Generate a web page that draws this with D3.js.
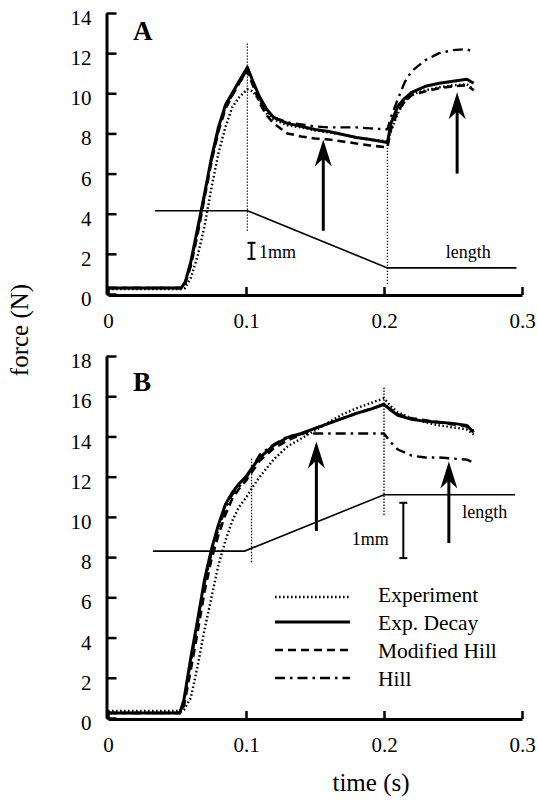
<!DOCTYPE html>
<html>
<head>
<meta charset="utf-8">
<script src="https://cdn.jsdelivr.net/npm/d3@7"></script>
<style>
  body { margin: 0; background: #fff; }
  text { font-family: "Liberation Serif", "Times New Roman", serif; fill: #000; }
</style>
</head>
<body>
<div id="chart"></div>
<script>
// ---------------------------------------------------------------
// DATA
// ---------------------------------------------------------------
const xTicks = [0, 0.1, 0.2, 0.3];
const xTickLabels = ["0", "0.1", "0.2", "0.3"];
const yTicksA = [0, 2, 4, 6, 8, 10, 12, 14];
const yTicksB = [0, 2, 4, 6, 8, 10, 12, 14, 16, 18];

// panel A
const timeA = [0, 0.053, 0.056, 0.06, 0.065, 0.07, 0.075, 0.08, 0.085, 0.09, 0.095, 0.101, 0.105, 0.11, 0.115, 0.12, 0.13, 0.14, 0.15, 0.16, 0.17, 0.18, 0.19, 0.2025, 0.205, 0.21, 0.215, 0.22, 0.23, 0.24, 0.25, 0.26, 0.265];
const experimentA = [0.25, 0.25, 0.3, 0.8, 1.9, 3.4, 5.3, 7.0, 8.3, 9.3, 9.8, 10.2, 10.1, 9.6, 9.0, 8.7, 8.4, 8.3, 8.15, 8.05, 7.95, 7.8, 7.7, 7.6, 8.1, 9.0, 9.6, 9.95, 10.15, 10.3, 10.4, 10.45, 10.2];
const decayA = [0.3, 0.3, 0.6, 1.6, 3.3, 5.0, 6.8, 8.3, 9.4, 10.0, 10.6, 11.3, 10.6, 9.8, 9.2, 8.8, 8.5, 8.35, 8.2, 8.1, 7.95, 7.8, 7.7, 7.55, 8.5, 9.35, 9.75, 10.05, 10.35, 10.5, 10.6, 10.7, 10.5];
const modHillA = [0.3, 0.3, 0.5, 1.4, 3.0, 4.8, 6.6, 8.1, 9.2, 9.9, 10.5, 11.1, 10.4, 9.5, 8.9, 8.5, 8.0, 7.85, 7.75, 7.7, 7.6, 7.5, 7.4, 7.3, 8.2, 9.1, 9.6, 9.9, 10.1, 10.25, 10.35, 10.4, 10.15];
const hillA = [0.3, 0.3, 0.6, 1.5, 3.2, 4.9, 6.7, 8.2, 9.3, 9.9, 10.5, 11.2, 10.5, 9.7, 9.1, 8.8, 8.55, 8.45, 8.35, 8.3, 8.3, 8.3, 8.25, 8.2, 8.8, 9.7, 10.55, 11.1, 11.65, 12.0, 12.15, 12.2, 12.05];

// panel B
const timeB = [0, 0.052, 0.055, 0.06, 0.065, 0.07, 0.075, 0.08, 0.085, 0.09, 0.095, 0.1, 0.105, 0.11, 0.12, 0.13, 0.14, 0.15, 0.16, 0.17, 0.18, 0.19, 0.2, 0.205, 0.21, 0.22, 0.23, 0.24, 0.25, 0.26, 0.265];
const experimentB = [0.35, 0.35, 0.4, 1.0, 2.6, 4.4, 6.0, 7.6, 8.8, 9.8, 10.5, 10.95, 11.5, 12.0, 12.85, 13.5, 13.9, 14.3, 14.7, 15.1, 15.4, 15.65, 15.9, 15.5, 15.2, 14.9, 14.7, 14.55, 14.45, 14.35, 14.1];
const decayB = [0.25, 0.25, 0.9, 3.0, 4.9, 6.9, 8.4, 9.6, 10.6, 11.2, 11.65, 12.0, 12.5, 12.95, 13.55, 13.95, 14.15, 14.4, 14.65, 14.9, 15.15, 15.35, 15.6, 15.3, 15.05, 14.85, 14.75, 14.7, 14.65, 14.55, 14.2];
const modHillB = [0.25, 0.25, 0.6, 2.4, 4.3, 6.3, 7.9, 9.1, 10.1, 10.9, 11.4, 11.8, 12.3, 12.8, 13.4, 13.8, 14.1, 14.4, 14.65, 14.9, 15.15, 15.35, 15.6, 15.35, 15.1, 14.9, 14.8, 14.7, 14.6, 14.5, 14.3];
const hillB = [0.25, 0.25, 0.8, 2.8, 4.7, 6.7, 8.2, 9.4, 10.4, 11.1, 11.5, 11.9, 12.5, 13.1, 13.6, 14.0, 14.1, 14.15, 14.15, 14.15, 14.15, 14.15, 14.15, 13.7, 13.35, 13.05, 12.95, 12.95, 12.9, 12.85, 12.7];

// length traces and markers, in (time, force-axis) units
const lengthA = [[0.034, 4.15], [0.101, 4.15], [0.2025, 1.3], [0.296, 1.3]];
const lengthB = [[0.0325, 8.3], [0.099, 8.3], [0.2, 11.1], [0.295, 11.1]];
const markersA = [[0.101, 3.15, 12.5], [0.2025, 0.5, 7.65]];
const markersB = [[0.104, 7.75, 12.95], [0.2, 10.1, 16.45]];
const arrowsA = [[0.156, 3.15, 7.7], [0.253, 6.0, 10.05]];
const arrowsB = [[0.151, 9.3, 13.75], [0.247, 8.7, 12.75]];

const legendNames = ["Experiment", "Exp. Decay", "Modified Hill", "Hill"];

// ---------------------------------------------------------------
// LAYOUT
// ---------------------------------------------------------------
const width = 538;
const height = 800;

const x = d3.scaleLinear().domain([0, 0.3]).range([108, 522]);
const yA = d3.scaleLinear().domain([0, 14]).range([294, 13]);
const yB = d3.scaleLinear().domain([0, 18]).range([718, 356]);

// line styles per series
const seriesStyle = [
    { width: 2.4, dash: "1.6,2.4" },   // experiment (dotted)
    { width: 3, dash: null },          // exp. decay (solid)
    { width: 2.6, dash: "8,5" },       // modified hill (dashed)
    { width: 2.4, dash: "10,5,2.5,5" } // hill (dash-dot)
];

const svg = d3.select("#chart").append("svg")
    .attr("width", width)
    .attr("height", height);

// axes for one panel
function drawAxes(y, yTicks) {
    const leftAxis = d3.axisLeft(y)
        .tickValues(yTicks)
        .tickFormat(d => `${d}`)
        .tickSize(-10)
        .tickSizeOuter(0)
        .tickPadding(15);
    const gy = svg.append("g")
        .attr("transform", `translate(${x(0) - 1.5}, 0)`)
        .call(leftAxis);

    const bottomAxis = d3.axisBottom(x)
        .tickValues(xTicks)
        .tickFormat((d, i) => xTickLabels[i])
        .tickSize(-8)
        .tickSizeOuter(0)
        .tickPadding(18);
    const gx = svg.append("g")
        .attr("transform", `translate(0, ${y(0) + 1})`)
        .call(bottomAxis);

    [gy, gx].forEach(g => {
        g.select(".domain").attr("stroke", "#000").attr("stroke-width", 3);
        g.selectAll(".tick line").attr("stroke", "#000").attr("stroke-width", 2.5);
        g.selectAll(".tick text")
            .attr("font-family", "Liberation Serif")
            .attr("font-size", 21)
            .attr("fill", "#000");
    });
    gy.selectAll(".tick text").attr("dy", "0.55em");
}

// one force curve
function drawSeries(y, time, values, style) {
    const line = d3.line()
        .x((d, i) => x(time[i]))
        .y(d => y(d));
    svg.append("path")
        .datum(values)
        .attr("d", line)
        .attr("fill", "none")
        .attr("stroke", "#000")
        .attr("stroke-width", style.width)
        .attr("stroke-dasharray", style.dash)
        .attr("stroke-linejoin", "round");
}

function drawLength(y, pts) {
    const line = d3.line().x(d => x(d[0])).y(d => y(d[1]));
    svg.append("path")
        .datum(pts)
        .attr("d", line)
        .attr("fill", "none")
        .attr("stroke", "#000")
        .attr("stroke-width", 1.6);
}

function drawMarkers(y, markers) {
    markers.forEach(m => {
        svg.append("line")
            .attr("x1", x(m[0])).attr("x2", x(m[0]))
            .attr("y1", y(m[1])).attr("y2", y(m[2]))
            .attr("stroke", "#000")
            .attr("stroke-width", 1.3)
            .attr("stroke-dasharray", "1.3,1.7");
    });
}

function drawArrows(y, arrows) {
    arrows.forEach(a => {
        const xp = x(a[0]);
        const yb = y(a[1]);
        const yt = y(a[2]);
        svg.append("line")
            .attr("x1", xp).attr("x2", xp)
            .attr("y1", yb).attr("y2", yt + 18)
            .attr("stroke", "#000")
            .attr("stroke-width", 3);
        svg.append("path")
            .attr("d", `M${xp},${yt} L${xp + 8.5},${yt + 27} L${xp},${yt + 19} L${xp - 8.5},${yt + 27} Z`)
            .attr("fill", "#000");
    });
}

// "I" shaped scale bar
function drawScaleBar(y, t, f0, f1) {
    const xp = x(t);
    const g = svg.append("g").attr("stroke", "#000").attr("stroke-width", 2);
    g.append("line").attr("x1", xp).attr("x2", xp).attr("y1", y(f0)).attr("y2", y(f1));
    g.append("line").attr("x1", xp - 4).attr("x2", xp + 4).attr("y1", y(f0)).attr("y2", y(f0));
    g.append("line").attr("x1", xp - 4).attr("x2", xp + 4).attr("y1", y(f1)).attr("y2", y(f1));
}

function label(px, py, txt, size, anchor, bold) {
    svg.append("text")
        .attr("x", px)
        .attr("y", py)
        .attr("font-size", size)
        .attr("font-weight", bold ? "bold" : "normal")
        .attr("text-anchor", anchor || "start")
        .text(txt);
}

// ---------------------------------------------------------------
// PANEL A
// ---------------------------------------------------------------
drawAxes(yA, yTicksA);
drawMarkers(yA, markersA);
drawLength(yA, lengthA);
[experimentA, decayA, modHillA, hillA].forEach((vals, i) => drawSeries(yA, timeA, vals, seriesStyle[i]));
drawArrows(yA, arrowsA);
drawScaleBar(yA, 0.104, 1.75, 2.55);
label(x(0.1095), yA(1.8), "1mm", 18);
label(x(0.261), yA(1.8), "length", 18, "middle");
label(133, 40, "A", 27, "start", true);

// ---------------------------------------------------------------
// PANEL B
// ---------------------------------------------------------------
drawAxes(yB, yTicksB);
drawMarkers(yB, markersB);
drawLength(yB, lengthB);
[experimentB, decayB, modHillB, hillB].forEach((vals, i) => drawSeries(yB, timeB, vals, seriesStyle[i]));
drawArrows(yB, arrowsB);
drawScaleBar(yB, 0.214, 7.95, 10.7);
label(x(0.19), yB(8.6), "1mm", 18, "middle");
label(x(0.273), yB(9.95), "length", 18, "middle");
label(133, 391, "B", 27, "start", true);

// legend
const legendY = [597, 622, 650, 678];
legendNames.forEach((name, i) => {
    svg.append("line")
        .attr("x1", 275).attr("x2", 350)
        .attr("y1", legendY[i]).attr("y2", legendY[i])
        .attr("stroke", "#000")
        .attr("stroke-width", seriesStyle[i].width)
        .attr("stroke-dasharray", seriesStyle[i].dash);
    label(378, 602 + i * 28, name, 21.5);
});

// axis titles
svg.append("text")
    .attr("transform", "translate(28, 330) rotate(-90)")
    .attr("text-anchor", "middle")
    .attr("font-size", 25)
    .text("force (N)");
label(371, 791, "time (s)", 25, "middle");
</script>
</body>
</html>
